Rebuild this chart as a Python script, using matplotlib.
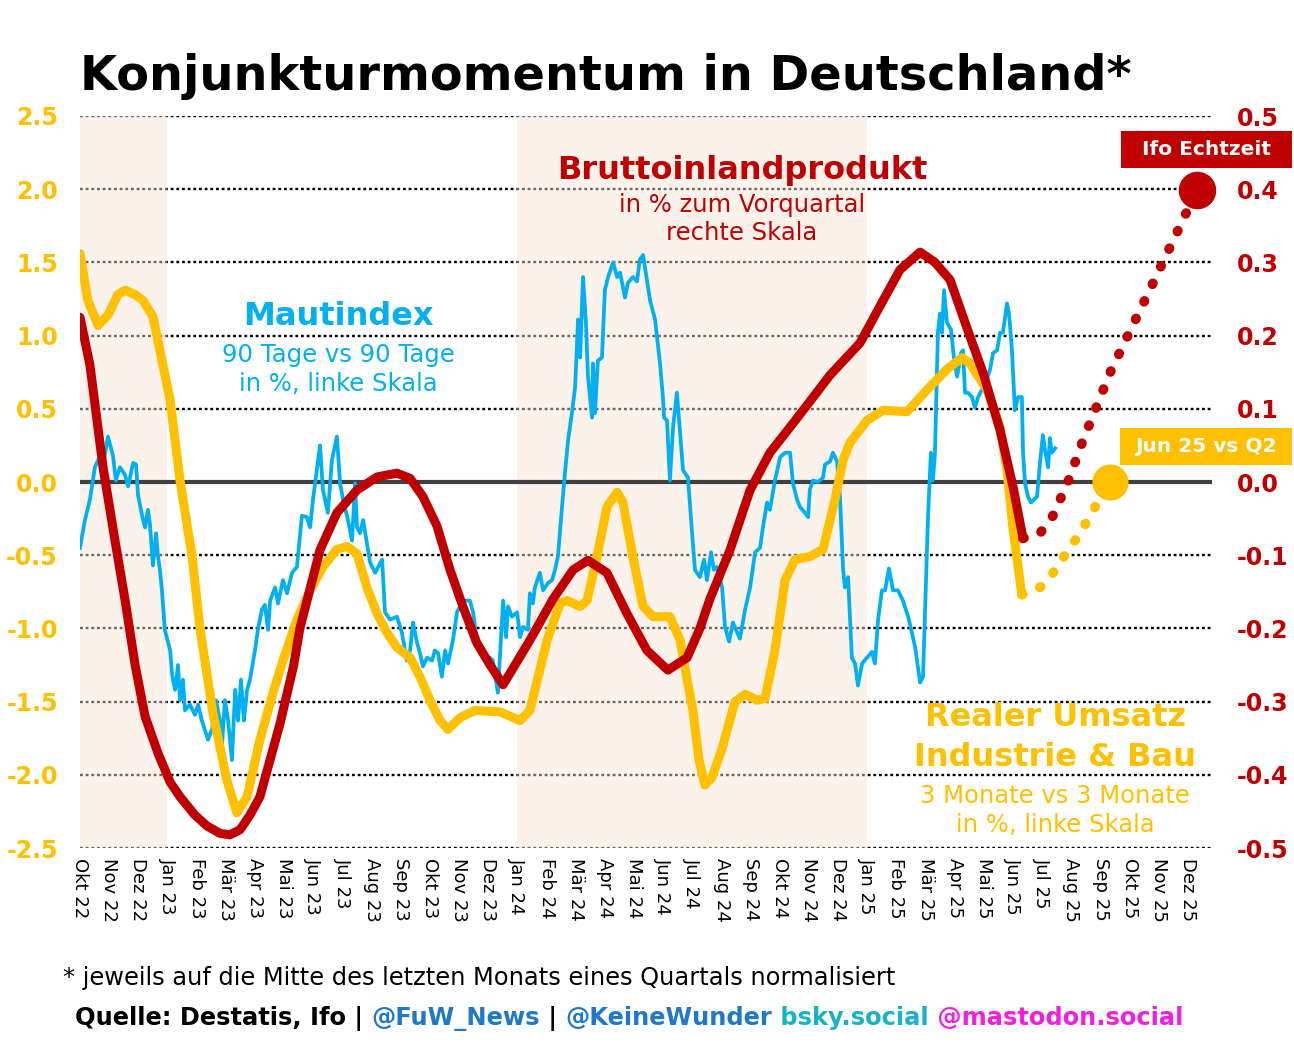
import numpy as np
import matplotlib
matplotlib.use("Agg")
import matplotlib.pyplot as plt
from matplotlib.patches import Rectangle

# months since Okt 22 (0 = Okt 22)
maut_t = [0.00, 0.17, 0.34, 0.51, 0.69, 0.82, 0.96, 1.13, 1.23, 1.37, 1.54, 1.65, 1.82, 1.92, 1.99,
          2.13, 2.23, 2.33, 2.40, 2.50, 2.61, 2.67, 2.74, 2.81, 2.91, 3.09, 3.16, 3.26, 3.36, 3.43,
          3.53, 3.60, 3.77, 3.94, 4.05, 4.18, 4.39, 4.53, 4.66, 4.80, 4.87, 4.97, 5.08, 5.21, 5.32,
          5.42, 5.52, 5.62, 5.73, 5.83, 6.00, 6.10, 6.24, 6.34, 6.45, 6.52, 6.69, 6.79, 6.96, 7.10,
          7.27, 7.44, 7.61, 7.78, 7.89, 7.99, 8.23, 8.33, 8.50, 8.64, 8.81, 8.92, 9.02, 9.19, 9.33,
          9.43, 9.50, 9.60, 9.71, 9.84, 9.95, 10.12, 10.36, 10.46, 10.63, 10.87, 11.04, 11.21, 11.32,
          11.42, 11.56, 11.66, 11.76, 11.90, 12.07, 12.17, 12.28, 12.41, 12.52, 12.62, 12.79, 12.93,
          13.03, 13.20, 13.37, 13.48, 13.61, 13.82, 14.06, 14.16, 14.33, 14.51, 14.61, 14.68, 14.81,
          14.99, 15.09, 15.19, 15.36, 15.43, 15.53, 15.60, 15.77, 15.88, 16.05, 16.19, 16.29, 16.39,
          16.53, 16.63, 16.74, 16.87, 16.98, 17.08, 17.15, 17.25, 17.35, 17.42, 17.56, 17.59, 17.66,
          17.76, 17.90, 18.00, 18.11, 18.28, 18.42, 18.52, 18.69, 18.79, 18.96, 19.10, 19.20, 19.31,
          19.44, 19.55, 19.72, 19.89, 19.99, 20.03, 20.13, 20.23, 20.34, 20.47, 20.58, 20.68, 20.85,
          20.99, 21.09, 21.26, 21.40, 21.50, 21.64, 21.74, 21.84, 22.02, 22.12, 22.26, 22.39, 22.63,
          22.81, 22.98, 23.15, 23.32, 23.42, 23.56, 23.66, 23.83, 24.01, 24.18, 24.35, 24.45, 24.59,
          24.69, 24.86, 24.97, 25.03, 25.14, 25.31, 25.48, 25.55, 25.72, 25.82, 25.96, 26.06, 26.17,
          26.23, 26.34, 26.47, 26.58, 26.68, 26.82, 26.99, 27.16, 27.26, 27.37, 27.50, 27.61, 27.74,
          27.88, 28.05, 28.22, 28.40, 28.53, 28.64, 28.81, 28.91, 29.01, 29.08, 29.18, 29.25, 29.32,
          29.42, 29.49, 29.56, 29.63, 29.73, 29.87, 29.97, 30.08, 30.21, 30.28, 30.35, 30.45, 30.59,
          30.69, 30.80, 30.93, 31.10, 31.21, 31.31, 31.45, 31.55, 31.65, 31.79, 31.86, 31.96, 32.06,
          32.17, 32.30, 32.34, 32.41, 32.51, 32.61, 32.82, 32.92, 33.02, 33.09, 33.20, 33.26, 33.33,
          33.44]
maut_v = [-0.45, -0.26, -0.12, 0.10, 0.18, 0.15, 0.31, 0.18, 0.01, 0.10, 0.05, -0.03, 0.13, 0.12, -0.09,
          -0.23, -0.31, -0.19, -0.29, -0.57, -0.35, -0.50, -0.60, -0.74, -1.01, -1.15, -1.32, -1.42, -1.25, -1.49,
          -1.35, -1.56, -1.52, -1.59, -1.52, -1.63, -1.76, -1.69, -1.49, -1.63, -1.80, -1.49, -1.63, -1.90, -1.42,
          -1.63, -1.35, -1.63, -1.42, -1.35, -1.15, -1.01, -0.87, -0.84, -1.01, -0.81, -0.72, -0.83, -0.67, -0.76,
          -0.62, -0.58, -0.23, -0.24, -0.31, -0.12, 0.25, -0.05, -0.21, 0.15, 0.31, -0.01, -0.12, -0.26, -0.40,
          -0.01, -0.31, -0.35, -0.26, -0.42, -0.55, -0.62, -0.53, -0.89, -0.94, -0.92, -1.03, -1.22, -1.15,
          -0.96, -1.10, -1.17, -1.26, -1.20, -1.22, -1.15, -1.17, -1.33, -1.15, -1.24, -1.08, -0.89,
          -0.85, -0.81, -0.81, -0.89, -1.08, -1.20, -1.20, -1.22, -1.44, -0.81, -1.06, -0.85, -0.92,
          -0.89, -1.06, -0.99, -1.01, -0.76, -0.83, -0.72, -0.62, -0.74, -0.69, -0.67, -0.60, -0.51,
          -0.17, 0.06, 0.29, 0.47, 0.65, 1.11, 0.85, 1.40, 1.09, 0.72, 0.44, 0.81, 0.47,
          0.83, 0.85, 1.31, 1.40, 1.50, 1.40, 1.43, 1.26, 1.36, 1.40, 1.37, 1.52, 1.55,
          1.38, 1.24, 1.11, 0.81, 0.58, 0.44, 0.42, 0.01, 0.38, 0.61, 0.33, 0.08, 0.03,
          -0.35, -0.60, -0.65, -0.53, -0.67, -0.48, -0.60, -0.58, -0.72, -0.99, -1.09, -0.96, -1.07,
          -0.87, -0.72, -0.48, -0.45, -0.31, -0.14, -0.19, 0.01, 0.17, 0.20, 0.20, -0.01, -0.12,
          -0.17, -0.21, -0.24, -0.05, 0.01, 0.00, 0.03, 0.12, 0.14, 0.20, 0.14, -0.10, -0.60,
          -0.72, -0.65, -1.20, -1.24, -1.39, -1.24, -1.20, -1.16, -1.24, -0.94, -0.74, -0.74, -0.59,
          -0.74, -0.74, -0.81, -0.92, -1.03, -1.13, -1.37, -1.33, -0.69, -0.24, 0.20, 0.01, 0.20,
          1.02, 1.15, 1.02, 1.31, 1.09, 1.04, 0.85, 0.72, 0.88, 0.90, 0.61, 0.61, 0.58,
          0.51, 0.58, 0.63, 0.70, 0.77, 0.88, 0.90, 1.02, 1.02, 1.22, 1.15, 0.90, 0.49,
          0.58, 0.58, 0.20, -0.01, -0.10, -0.14, -0.10, 0.13, 0.32, 0.22, 0.10, 0.30, 0.20,
          0.23]

umsatz_t = [0.00, 0.27, 0.62, 0.96, 1.30, 1.54, 1.89, 2.16, 2.50, 2.74,
            3.09, 3.43, 3.84, 4.12, 4.56, 5.04, 5.38, 5.73, 6.17, 6.62,
            6.96, 7.44, 7.89, 8.33, 8.81, 9.16, 9.50, 9.84, 10.19, 10.53,
            10.87, 11.32, 11.66, 12.00, 12.35, 12.62, 13.03, 13.55, 14.40, 15.09,
            15.43, 16.02, 16.46, 16.70, 17.15, 17.39, 17.73, 18.07, 18.42, 18.62,
            18.96, 19.31, 19.65, 20.23, 20.58, 20.82, 21.02, 21.23, 21.43, 21.67,
            22.02, 22.46, 22.81, 23.22, 23.49, 23.83, 24.18, 24.52, 25.03, 25.48,
            25.89, 26.17, 26.41, 26.99, 27.54, 28.36, 29.05, 29.73, 30.25, 30.52,
            31.10, 31.55, 31.79, 32.00, 32.30]
umsatz_v = [1.56, 1.24, 1.07, 1.14, 1.28, 1.31, 1.28, 1.24, 1.13, 0.90,
            0.56, 0.01, -0.50, -1.01, -1.58, -2.04, -2.26, -2.15, -1.76, -1.44,
            -1.22, -0.94, -0.74, -0.58, -0.46, -0.44, -0.49, -0.72, -0.90, -1.03,
            -1.13, -1.20, -1.33, -1.49, -1.63, -1.69, -1.61, -1.56, -1.57, -1.63,
            -1.56, -1.08, -0.83, -0.81, -0.85, -0.81, -0.51, -0.17, -0.07, -0.14,
            -0.51, -0.85, -0.92, -0.92, -1.08, -1.35, -1.56, -1.90, -2.07, -2.02,
            -1.82, -1.50, -1.45, -1.49, -1.48, -1.15, -0.67, -0.53, -0.51, -0.46,
            -0.12, 0.15, 0.27, 0.42, 0.49, 0.48, 0.63, 0.77, 0.85, 0.81,
            0.63, 0.38, 0.08, -0.33, -0.77]

umsatz_proj_t = [32.30, 32.92, 33.37, 33.74, 34.12, 34.50, 34.84, 35.32]
umsatz_proj_v = [-0.77, -0.72, -0.62, -0.51, -0.40, -0.28, -0.16, 0.00]

bip_t = [0.00, 0.34, 0.79, 1.20, 1.54, 1.89, 2.23, 2.67, 3.09, 3.43,
         3.94, 4.36, 4.80, 5.14, 5.49, 5.83, 6.17, 6.86, 7.33, 7.54,
         8.23, 8.81, 9.50, 10.19, 10.87, 11.32, 11.76, 12.24, 12.69, 13.13,
         13.61, 14.06, 14.51, 15.43, 16.22, 16.91, 17.42, 18.07, 18.76, 19.44,
         20.16, 20.82, 21.26, 21.60, 22.29, 22.98, 23.66, 24.35, 25.03, 25.72,
         26.75, 27.43, 28.12, 28.81, 29.32, 29.84, 30.42, 30.97, 31.55, 32.00,
         32.34]
bip_v = [0.225, 0.16, 0.02, -0.08, -0.16, -0.25, -0.32, -0.37, -0.41, -0.43,
         -0.455, -0.47, -0.48, -0.482, -0.475, -0.455, -0.43, -0.33, -0.25, -0.20,
         -0.093, -0.042, -0.011, 0.007, 0.012, 0.005, -0.02, -0.06, -0.12, -0.17,
         -0.22, -0.25, -0.277, -0.216, -0.16, -0.12, -0.107, -0.124, -0.18, -0.23,
         -0.257, -0.24, -0.20, -0.16, -0.093, -0.011, 0.04, 0.075, 0.11, 0.146,
         0.19, 0.24, 0.29, 0.314, 0.30, 0.276, 0.21, 0.149, 0.071, -0.007,
         -0.077]

ifo_t = [32.34, 32.92, 33.33, 33.88, 34.36, 35.32, 36.80, 38.31]
ifo_v = [-0.077, -0.070, -0.049, 0.000, 0.053, 0.149, 0.272, 0.399]

months = ["Okt", "Nov", "Dez", "Jan", "Feb", "Mär", "Apr", "Mai", "Jun", "Jul", "Aug", "Sep"]
years = ["22"] * 3 + ["23"] * 12 + ["24"] * 12 + ["25"] * 12
tick_labels = [months[i % 12] + " " + years[i] for i in range(39)]
left_ticks = [-2.5, -2.0, -1.5, -1.0, -0.5, 0.0, 0.5, 1.0, 1.5, 2.0, 2.5]
right_ticks = [-0.5, -0.4, -0.3, -0.2, -0.1, 0.0, 0.1, 0.2, 0.3, 0.4, 0.5]
shaded = [(0, 3), (15, 27)]

RED = "#C00000"
YEL = "#FFC000"
BLUE = "#00B0F0"

plt.rcParams['font.family'] = ['DejaVu Sans']
fig = plt.figure(figsize=(12.94, 10.5), dpi=100)
ax = fig.add_axes([80 / 1294, 202 / 1050, 1132 / 1294, 732 / 1050])
ax2 = ax.twinx()

for y in left_ticks:
    if y != 0:
        ax.axhline(y, color="black", lw=1.7, linestyle=(0, (1.2, 1.2)), zorder=1)
for a, b in shaded:
    ax.axvspan(a, b, color="#F9E3D7", alpha=0.45, lw=0, zorder=2)
ax.axhline(0, color="#404040", lw=3, zorder=2.5)

dots = (0, (0.1, 1.9))
ax.plot(maut_t, maut_v, color=BLUE, lw=2.7, zorder=3, solid_joinstyle="round")
ax.plot(umsatz_t, umsatz_v, color=YEL, lw=6.5, zorder=4, solid_capstyle="round", solid_joinstyle="round")
ax.plot(umsatz_proj_t, umsatz_proj_v, color=YEL, lw=7, linestyle=dots,
        dash_capstyle="round", zorder=4)
ax.plot([umsatz_proj_t[-1]], [umsatz_proj_v[-1]], "o", color=YEL, ms=25, zorder=4, clip_on=False)

ax2.plot(bip_t, bip_v, color=RED, lw=6.5, zorder=5, solid_capstyle="round", solid_joinstyle="round")
ax2.plot(ifo_t, ifo_v, color=RED, lw=7, linestyle=dots, dash_capstyle="round", zorder=5)
ax2.plot([ifo_t[-1]], [ifo_v[-1]], "o", color=RED, ms=26, zorder=5, clip_on=False)

ax.set_xlim(0, 38.82)
ax.set_ylim(-2.5, 2.5)
ax2.set_ylim(-0.5, 0.5)
for s in list(ax.spines.values()) + list(ax2.spines.values()):
    s.set_visible(False)

ax.set_xticks(range(39))
ax.set_xticklabels(tick_labels, rotation=-90, fontsize=13, va="top", ha="center")
ax.set_yticks(left_ticks)
ax.set_yticklabels([f"{v:.1f}" for v in left_ticks], color=YEL, fontsize=17, fontweight="bold")
ax2.set_yticks(right_ticks)
ax2.set_yticklabels([f"{v:.1f}" for v in right_ticks], color=RED, fontsize=17, fontweight="bold")
ax.tick_params(axis="both", length=0)
ax.tick_params(axis="y", pad=16)
ax.tick_params(axis="x", pad=7)
ax2.tick_params(axis="y", length=0, pad=18)

# series labels
ax.text(8.85, 1.13, "Mautindex", color=BLUE, fontsize=23, fontweight="bold", ha="center", va="center")
ax.text(8.85, 0.87, "90 Tage vs 90 Tage", color=BLUE, fontsize=17.5, ha="center", va="center")
ax.text(8.85, 0.67, "in %, linke Skala", color=BLUE, fontsize=17.5, ha="center", va="center")
ax.text(22.7, 2.13, "Bruttoinlandprodukt", color=RED, fontsize=23, fontweight="bold", ha="center", va="center")
ax.text(22.7, 1.89, "in % zum Vorquartal", color=RED, fontsize=17.5, ha="center", va="center")
ax.text(22.7, 1.70, "rechte Skala", color=RED, fontsize=17.5, ha="center", va="center")
ax.text(33.44, -1.61, "Realer Umsatz", color=YEL, fontsize=23, fontweight="bold", ha="center", va="center")
ax.text(33.44, -1.885, "Industrie & Bau", color=YEL, fontsize=23, fontweight="bold", ha="center", va="center")
ax.text(33.44, -2.145, "3 Monate vs 3 Monate", color=YEL, fontsize=17.5, ha="center", va="center")
ax.text(33.44, -2.34, "in %, linke Skala", color=YEL, fontsize=17.5, ha="center", va="center")

# label boxes
W, H = 1294, 1050
for (x0, y0, x1, y1), col, txt in [((1121, 131, 1292, 168), RED, "Ifo Echtzeit"),
                                   ((1120, 428, 1292, 465), YEL, "Jun 25 vs Q2")]:
    fig.add_artist(Rectangle((x0 / W, 1 - y1 / H), (x1 - x0) / W, (y1 - y0) / H,
                             transform=fig.transFigure, color=col, lw=0, zorder=10))
    fig.text((x0 + x1) / 2 / W, 1 - (y0 + y1) / 2 / H, txt, color="white", fontsize=14.5,
             fontweight="bold", ha="center", va="center", zorder=11)

fig.text(80 / W, 1 - 90 / H, "Konjunkturmomentum in Deutschland*", fontsize=34.5,
         fontweight="bold", ha="left", va="baseline")
fig.text(63 / W, 1 - 985 / H, "* jeweils auf die Mitte des letzten Monats eines Quartals normalisiert",
         fontsize=17.4, ha="left", va="baseline")

parts = [("Quelle: Destatis, Ifo | ", "black"), ("@FuW_News", "#1F78C8"), (" | ", "black"),
         ("@KeineWunder", "#1F78C8"), (" bsky.social", "#1AB3C3"), (" @mastodon.social", "#F21FE0")]
fig.canvas.draw()
renderer = fig.canvas.get_renderer()
xpos = 75 / W
for txt, col in parts:
    t = fig.text(xpos, 1 - 1025 / H, txt, fontsize=17.4, fontweight="bold", color=col,
                 ha="left", va="baseline")
    bb = t.get_window_extent(renderer=renderer)
    xpos += bb.width / W

fig.savefig("out.png", dpi=100)
